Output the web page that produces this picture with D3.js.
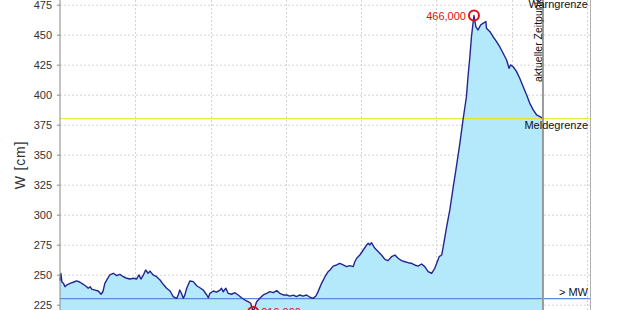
<!DOCTYPE html>
<html><head><meta charset="utf-8">
<script src="https://cdn.jsdelivr.net/npm/d3@7"></script>
<style>body{margin:0;background:#fff}svg{display:block}</style>
</head><body>
<svg id="c" width="620" height="310"></svg>
<script>
const hours = [0.0,0.3,0.6,1.1,1.6,2.1,3.2,4.2,5.3,6.4,7.4,8.5,9.0,9.6,10.1,11.2,12.2,13.1,13.7,14.3,15.2,15.9,17.0,18.1,19.1,20.2,21.3,22.3,23.4,24.4,25.2,25.8,26.6,27.3,28.1,28.7,29.7,30.8,31.9,32.9,34.0,35.1,36.1,37.2,37.7,38.2,38.8,39.3,39.8,40.4,41.4,42.5,43.6,44.6,45.7,46.8,47.3,47.8,48.9,49.9,51.0,51.5,52.0,52.9,53.6,54.7,55.8,56.8,57.9,59.0,60.0,60.8,61.6,62.7,63.7,64.8,65.9,66.9,68.0,69.1,70.1,71.2,72.3,73.3,74.4,75.4,76.5,77.5,78.6,79.7,80.7,81.6,82.3,83.4,84.5,85.5,86.1,87.1,88.2,89.2,90.3,91.4,92.4,93.5,94.0,94.6,95.6,96.7,97.8,98.3,98.8,99.3,100.4,101.5,102.5,103.6,104.6,105.7,106.8,107.8,108.9,110.0,111.0,112.1,113.1,114.2,115.3,116.3,117.4,118.5,119.5,120.3,120.9,121.7,122.2,123.3,124.3,125.4,126.4,127.5,128.5,129.6,130.1,130.7,131.2,131.7,132.0,132.6,133.3,134.1,134.9,135.8,136.0,137.1,138.1,139.2,140.2,141.3,142.4,143.2,143.7,144.5,145.6,146.6,147.7,148.8,149.8,150.9,152.0,153.0,154.0];
const levels = [245,251,244,242.8,240,241.4,242.8,243.7,244.8,243.7,242,240,238.7,240,238,237.2,236.4,233.7,236,242.8,247,249.8,251.2,249.2,250.3,248.3,247,246.4,247,246.4,249.8,246.4,249.8,253.9,251.2,253,249.8,248.3,245.6,242,238.7,236.4,231.7,230.3,233.1,237.2,234,230.3,233,238.7,244.8,244.2,240.8,239.1,237.2,233.1,230.8,234.5,236.4,235.5,237.2,238.7,235.8,238.7,234.5,233.7,235,233.1,230.8,228.9,227.5,226.2,219,227.5,230.3,233.1,234.5,235.9,235,236.7,234.5,233.1,233.1,232.2,233,231.7,233.1,232.2,233.1,231.2,230.3,232.2,235.9,242.8,248.3,252.5,253.9,257.2,258.1,259.5,258.1,256.7,257.5,256.7,260.8,263.7,266.4,270.6,274.8,276.2,274.8,276.7,272,269.2,266.4,262.8,261.7,265,266.4,263.7,261.7,260.8,260,259.5,258.1,257.2,258.9,256.7,252.5,251.2,255.3,260.8,265,266.4,273.3,290,304,323.3,340,359.5,378.9,398.3,415,431.7,448.3,459.5,466,456.7,453.9,458,459.5,461,455.3,452.5,448.3,444.2,440,434.5,428.9,422,424.8,423.3,419.2,413.7,406.7,399.8,392.8,387.3,383.1,381.7,380.3,380];
const yTicks = [225,250,275,300,325,350,375,400,425,450,475];
const xGridHours = [0,24,48,72,96,120,144,168];
const meldegrenze = 380;
const mittelwasser = 230;
const currentHour = 154;
const maxValue = 466, maxLabel = "466,000";
const minValue = 219, minLabel = "219,000";
const yTitle = "W [cm]";

const svg = d3.select("#c");
const L = 60, R = 590;
const x = d3.scaleLinear().domain([0,169]).range([L,R]);
const y = d3.scaleLinear().domain([225,475]).range([304.7,4.7]);
const bottom = y(200);
const font = "Liberation Sans, Arial, sans-serif";

// grid
svg.append("g").selectAll("line").data(yTicks).join("line")
  .attr("x1",L).attr("x2",R).attr("y1",d=>y(d)+0.5).attr("y2",d=>y(d)+0.5)
  .attr("stroke","#d4d4d4").attr("stroke-dasharray","2,2");
svg.append("g").selectAll("line").data(xGridHours.slice(1)).join("line")
  .attr("x1",d=>Math.round(x(d))+0.5).attr("x2",d=>Math.round(x(d))+0.5).attr("y1",0).attr("y2",310)
  .attr("stroke","#d4d4d4").attr("stroke-dasharray","2,2");

const data = hours.map((h,i)=>({h, v:levels[i]}));
svg.append("path").datum(data)
  .attr("d", d3.area().x(d=>x(d.h)).y0(bottom).y1(d=>y(d.v)))
  .attr("fill","#b3e9fb");

// limit lines
svg.append("line").attr("x1",L).attr("x2",R).attr("y1",y(meldegrenze)).attr("y2",y(meldegrenze))
  .attr("stroke","#e8e800").attr("stroke-width",1);
svg.append("line").attr("x1",L).attr("x2",R).attr("y1",y(mittelwasser)).attr("y2",y(mittelwasser))
  .attr("stroke","#5b8ad8").attr("stroke-width",1.2);

svg.append("path").datum(data)
  .attr("d", d3.line().x(d=>x(d.h)).y(d=>y(d.v)))
  .attr("fill","none").attr("stroke","#25258f").attr("stroke-width",1.4).attr("stroke-linejoin","round");

// current time
svg.append("line").attr("x1",x(currentHour)).attr("x2",x(currentHour)).attr("y1",0).attr("y2",310)
  .attr("stroke","#9a9a9a").attr("stroke-width",2);
// right frame
svg.append("line").attr("x1",R+0.5).attr("x2",R+0.5).attr("y1",0).attr("y2",310)
  .attr("stroke","#b0b0b0").attr("stroke-width",1);

// axis
const ax = svg.append("g").attr("transform",`translate(${L},0)`)
  .call(d3.axisLeft(y).tickValues(yTicks).tickSize(3).tickPadding(5).tickFormat(d3.format("d")));
ax.select(".domain").attr("stroke","#8a8a8a").attr("d","M0,0V310");
ax.selectAll(".tick line").attr("stroke","#8a8a8a");
ax.selectAll("text").attr("font-family",font).attr("font-size",11).attr("fill","#333");

svg.append("text").attr("transform",`translate(25,165) rotate(-90)`)
  .attr("text-anchor","middle").attr("font-family",font).attr("font-size",14).attr("letter-spacing",0.8).attr("fill","#333").text(yTitle);

// labels
const lab = (t,xx,yy,anchor,col,rot,fs)=>{
  const e = svg.append("text").attr("font-family",font).attr("font-size",fs||11).attr("fill",col||"#111").attr("text-anchor",anchor).text(t);
  if(rot) e.attr("transform",`translate(${xx},${yy}) rotate(-90)`); else e.attr("x",xx).attr("y",yy);
};
lab("Warngrenze",588,8,"end");
lab("Meldegrenze",588,y(meldegrenze)+10,"end");
lab("> MW",588,y(mittelwasser)-3,"end");
lab("aktueller Zeitpunkt",x(currentHour)-1,82,"start","#111",true,10.5);

// max/min markers
const maxIdx = levels.indexOf(maxValue), minIdx = levels.indexOf(minValue);
svg.append("circle").attr("cx",x(hours[maxIdx])).attr("cy",y(maxValue)).attr("r",5)
  .attr("fill","none").attr("stroke","#e01010").attr("stroke-width",2);
svg.append("circle").attr("cx",x(hours[minIdx])).attr("cy",y(minValue)).attr("r",5)
  .attr("fill","none").attr("stroke","#e01010").attr("stroke-width",2);
lab(maxLabel,x(hours[maxIdx])-8,y(maxValue)+4,"end","#e01010");
lab(minLabel,x(hours[minIdx])+8,y(minValue)+4,"start","#e01010");
</script>
</body></html>
